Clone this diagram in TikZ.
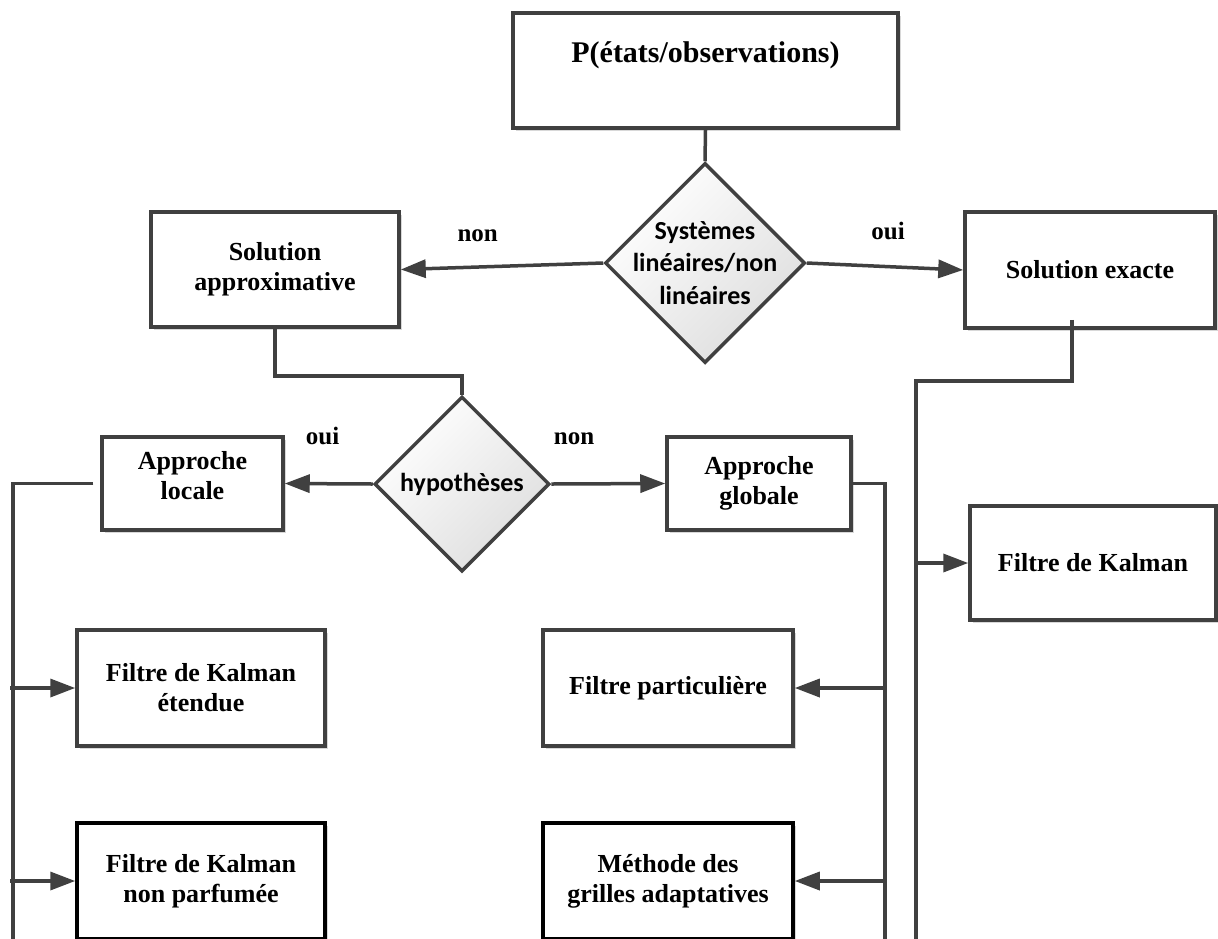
\documentclass[tikz,border=0pt]{standalone}
\usepackage{fontspec}
\setmainfont{Liberation Serif}
\newfontfamily\calibfont{Carlito}
\usetikzlibrary{shapes.geometric,arrows.meta,shadows}

\definecolor{linegray}{RGB}{64,64,64}

\tikzset{
	box/.style={rectangle, draw=linegray, line width=3.5pt, fill=white, align=center,
		font=\bfseries\fontsize{26}{30}\selectfont,
		drop shadow={shadow xshift=3pt, shadow yshift=-3pt, fill=black!30, opacity=.5}},
	darkbox/.style={box, draw=black},
	decision/.style={diamond, shape aspect=1, draw=linegray, line width=3.5pt, inner sep=-12pt,
		top color=white, bottom color=black!13, shading angle=45, align=center,
		font=\calibfont\bfseries\fontsize{26}{32.5}\selectfont},
	answer/.style={inner sep=0pt, font=\bfseries\fontsize{25}{30}\selectfont}
}

\begin{document}
\begin{tikzpicture}[x=1pt, y=-1pt, >={Triangle[length=25pt,width=18pt]}]
\useasboundingbox (0,0) rectangle (1218,938);
\clip (0,0) rectangle (1218,938);

\begin{scope}
	%Level 1
	\node[box, minimum width=385pt, minimum height=115pt, text height=22pt, text depth=39pt,
		font=\bfseries\fontsize{30}{36}\selectfont] (P) at (705.5, 70.5) {P(états/observations)};
	\node[decision, minimum size=200pt] (lin) at (705, 263) {Systèmes\\linéaires/non\\linéaires};
	
	%Level 2
	\node[box, minimum width=248pt, minimum height=115pt] (solapp) at (275, 269.5) {Solution\\approximative};
	\node[box, minimum width=250pt, minimum height=116pt] (solex) at (1090, 270) {Solution exacte};
	
	%Level 3
	\node[decision, minimum size=175pt] (hyp) at (462, 484) {hypothèses};
	\node[box, minimum width=181pt, minimum height=93pt, text depth=16pt] (apploc) at (192.5, 483.5) {Approche\\locale};
	\node[box, minimum width=184pt, minimum height=93pt] (appglob) at (759, 483.5) {Approche\\globale};
	
	%Level 4
	\node[box, minimum width=246pt, minimum height=114pt] (fk) at (1093, 563) {Filtre de Kalman};
	\node[box, minimum width=248pt, minimum height=116pt] (fke) at (201, 688) {Filtre de Kalman\\étendue};
	\node[box, minimum width=250pt, minimum height=116pt] (fp) at (668, 688) {Filtre particulière};
	
	%Level 5
	\node[darkbox, minimum width=248pt, minimum height=116pt] (fknp) at (201, 881) {Filtre de Kalman\\non parfumée};
	\node[darkbox, minimum width=250pt, minimum height=116pt] (mga) at (668, 881) {Méthode des\\grilles adaptatives};
\end{scope}

%Bus lines
\coordinate (locbot) at (13, 940);
\coordinate (loc1) at (10, 688);
\coordinate (loc2) at (10, 881);
\coordinate (globbot) at (885, 940);
\coordinate (glob1) at (886, 688);
\coordinate (glob2) at (886, 881);
\coordinate (exbot) at (916, 940);
\coordinate (ex1) at (916, 563);

\begin{scope}[draw=linegray, line width=3.5pt]
	%Level 1
	\draw (P.south) -- (lin.north);
	\path [->] (lin.west) edge node[answer, above=24pt, pos=0.62] {non} (solapp.east);
	\path [->] (lin.east) edge node[answer, above=25pt, pos=0.52] {oui} (solex.west);
	
	%Level 2
	\draw (solapp.south) -- ++(0,47) -| (hyp.north);
	\draw [shorten <=-10pt] ([xshift=-18pt]solex.south) -- ++(0,51) -| (exbot);
	\path [->] (ex1) edge (fk);
	
	%Level 3
	\path [->] (hyp.west) edge node[answer, above=37pt, pos=0.57] {oui} (apploc.east);
	\path [->] (hyp.east) edge node[answer, above=37pt, pos=0.2] {non} (appglob.west);
	
	\draw [shorten <=7pt] (apploc.west) -| (locbot);
	\path [->] (loc1) edge (fke);
	\path [->] (loc2) edge (fknp);
	
	\draw (appglob.east) -| (globbot);
	\path [->] (glob1) edge (fp);
	\path [->] (glob2) edge (mga);
\end{scope}

\end{tikzpicture}
\end{document}
